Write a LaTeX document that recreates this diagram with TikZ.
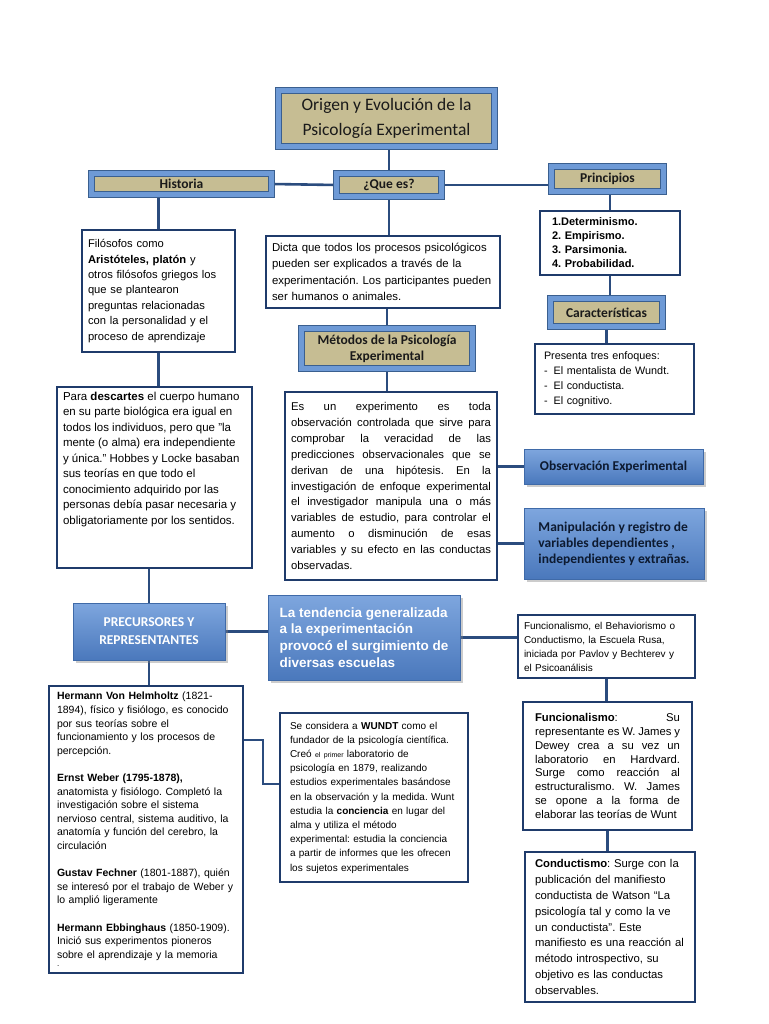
\documentclass[tikz,border=0pt]{standalone}
\usepackage{fontspec}
\setmainfont{Liberation Sans}
\newfontfamily\calibfont{Carlito}
\usetikzlibrary{shadows,backgrounds}
\definecolor{framedark}{HTML}{3A5F8F}
\definecolor{frameblue}{HTML}{6E9AD6}
\definecolor{tanfill}{HTML}{C6BD93}
\definecolor{boxnavy}{HTML}{1F3B6B}
\definecolor{linkblue}{HTML}{2B4C7E}
\definecolor{bluetop}{HTML}{7EA6DE}
\definecolor{bluebot}{HTML}{4A78BC}
\definecolor{blueedge}{HTML}{3F6AA8}
\definecolor{headtext}{HTML}{1A1A1A}
\definecolor{obstext}{HTML}{0D1A30}
\newcommand{\setfs}[2]{\fontsize{#1pt}{#2pt}\selectfont}
\frenchspacing
\begin{document}
\begin{tikzpicture}[x=1pt, y=-1pt,
		head/.style = {draw=framedark, line width=0.8pt, double=frameblue,
			double distance=5.4pt, fill=tanfill, text=headtext, align=center,
			inner sep=1pt, drop shadow={shadow xshift=2.5pt, shadow yshift=-2.5pt, opacity=0.4},
			font=\calibfont\bfseries\setfs{13.5}{16}},
		bluebox/.style = {draw=blueedge, line width=0.8pt, top color=bluetop,
			bottom color=bluebot, align=left,
			drop shadow={shadow xshift=2.5pt, shadow yshift=-2.5pt, opacity=0.4}},
		txt/.style = {draw=boxnavy, line width=1.6pt, fill=white, align=left,
			inner xsep=6pt, inner ysep=4pt},
		link/.style = {draw=linkblue, line width=2.6pt}]
	\useasboundingbox (0,0) rectangle (768,1024);
	% cabeceras
	\node[head, font=\calibfont\setfs{17.5}{25}, minimum width=216pt, minimum height=56pt] (titulo) at (386.5,118.5) {Origen y Evolución de la\\Psicología Experimental};
	\node[head, minimum width=180pt, minimum height=21pt] (historia) at (181.5,184) {Historia};
	\node[head, minimum width=105pt, minimum height=23pt] (quees) at (389,185) {¿Que es?};
	\node[head, minimum width=112pt, minimum height=25pt] (principios) at (607.5,179) {Principios};
	\node[head, minimum width=112pt, minimum height=28pt] (caract) at (606.5,312.5) {Características};
	\node[head, minimum width=171pt, minimum height=40pt] (metodos) at (387,348.5) {Métodos de la Psicología\\Experimental};
	% columna central
	\node[txt, text width=222pt, minimum height=72pt, font=\setfs{11.4}{16.5}] (queestxt) at (383,272) {Dicta que todos los procesos psicológicos\\pueden ser explicados a través de la\\experimentación. Los participantes pueden\\ser humanos o animales.};
	\node[txt, text width=200pt, minimum height=188pt, align=justify, font=\setfs{11.3}{15.9}] (exptxt) at (391,486) {Es un experimento es toda\linebreak
		observación controlada que sirve para\linebreak
		comprobar la veracidad de las\linebreak
		predicciones observacionales que se\linebreak
		derivan de una hipótesis. En la\linebreak
		investigación de enfoque experimental\linebreak
		el investigador manipula una o más\linebreak
		variables de estudio, para controlar el\linebreak
		aumento o disminución de esas\linebreak
		variables y su efecto en las conductas\linebreak
		observadas.};
	\node[bluebox, minimum width=179pt, minimum height=35pt, text=obstext, font=\calibfont\bfseries\setfs{13.5}{16}] (observ) at (613.5,466.5) {Observación Experimental};
	\node[bluebox, minimum width=180pt, minimum height=71pt, text=obstext, font=\calibfont\bfseries\setfs{13.5}{16}] (manipul) at (614,543.5) {Manipulación y registro de\\variables dependientes ,\\independientes y extrañas.};
	% columna izquierda
	\node[txt, text width=141pt, minimum height=122pt, font=\setfs{11.2}{15.4}] (histtxt) at (158.5,291) {Filósofos como\\\textbf{Aristóteles, platón} y\\otros filósofos griegos los\\que se plantearon\\preguntas relacionadas\\con la personalidad y el\\proceso de aprendizaje};
	\node[txt, inner ysep=5pt, font=\setfs{11.5}{15.5}] (descartes) at (154.5,477.5) {\parbox[c][171pt][t]{183pt}{\raggedright Para \textbf{descartes} el cuerpo humano\\en su parte biológica era igual en\\todos los individuos, pero que "la\\mente (o alma) era independiente\\y única." Hobbes y Locke basaban\\sus teorías en que todo el\\conocimiento adquirido por las\\personas debía pasar necesaria y\\obligatoriamente por los sentidos.}};
	\node[bluebox, minimum width=152pt, minimum height=57pt, align=center, text=white, font=\calibfont\bfseries\setfs{13.5}{18}] (precur) at (149,631.5) {PRECURSORES Y\\REPRESENTANTES};
	\node[bluebox, minimum width=192pt, minimum height=85pt, text=white, font=\bfseries\setfs{13.5}{16.7}] (tendencia) at (364,637.5) {La tendencia generalizada\\a la experimentación\\provocó el surgimiento de\\diversas escuelas};
	\node[txt, text width=178pt, inner xsep=8pt, inner ysep=3pt, minimum height=287pt, font=\setfs{10.5}{13.6}] (hermann) at (146,829.5) {\textbf{Hermann Von Helmholtz} (1821-\\1894), físico y fisiólogo, es conocido\\por sus teorías sobre el\\funcionamiento y los procesos de\\percepción.\\[13.6pt]
		\textbf{Ernst Weber (1795-1878),}\\anatomista y fisiólogo. Completó la\\investigación sobre el sistema\\nervioso central, sistema auditivo, la\\anatomía y función del cerebro, la\\circulación\\[13.6pt]
		\textbf{Gustav Fechner} (1801-1887), quién\\se interesó por el trabajo de Weber y\\lo amplió ligeramente\\[13.6pt]
		\textbf{Hermann Ebbinghaus} (1850-1909).\\Inició sus experimentos pioneros\\sobre el aprendizaje y la memoria\\[-5pt]{\setfs{8}{8}.}};
	\node[txt, text width=168pt, inner xsep=10pt, minimum height=169pt, font=\setfs{10}{14.2}] (wundt) at (374,797.5) {Se considera a \textbf{WUNDT} como el\\fundador de la psicología científica.\\Creó {\setfs{7}{14.2}el primer} laboratorio de\\psicología en 1879, realizando\\estudios experimentales basándose\\en la observación y la medida. Wunt\\estudia la \textbf{conciencia} en lugar del\\alma y utiliza el método\\experimental: estudia la conciencia\\a partir de informes que les ofrecen\\los sujetos experimentales};
	% columna derecha
	\node[txt, text width=116pt, inner xsep=12pt, minimum height=64pt, font=\bfseries\setfs{11}{14}] (princtxt) at (610,243) {1.Determinismo.\\2. Empirismo.\\3. Parsimonia.\\4. Probabilidad.};
	\node[txt, text width=141pt, inner xsep=9pt, minimum height=70pt, font=\setfs{10.8}{15}] (caracttxt) at (614.5,379) {Presenta tres enfoques:\\-\hspace{6pt}El mentalista de Wundt.\\-\hspace{6pt}El conductista.\\-\hspace{6pt}El cognitivo.};
	\node[txt, text width=165pt, minimum height=63pt, font=\setfs{10}{14}] (escuelas) at (606.5,646.5) {Funcionalismo, el Behaviorismo o\\Conductismo, la Escuela Rusa,\\iniciada por Pavlov y Bechterev y\\el Psicoanálisis};
	\node[txt, text width=145pt, inner xsep=12pt, minimum height=128pt, align=justify, font=\setfs{11.3}{13.8}] (funcional) at (607.5,766) {\textbf{Funcionalismo}: Su\linebreak
		representante es W. James y\linebreak
		Dewey crea a su vez un\linebreak
		laboratorio en Hardvard.\linebreak
		Surge como reacción al\linebreak
		estructuralismo. W. James\linebreak
		se opone a la forma de\linebreak
		elaborar las teorías de Wunt};
	\node[txt, text width=150pt, inner xsep=10pt, minimum height=150pt, font=\setfs{11.3}{15.9}] (conduct) at (610,927) {\textbf{Conductismo}: Surge con la\\publicación del manifiesto\\conductista de Watson “La\\psicología tal y como la ve\\un conductista”. Este\\manifiesto es una reacción al\\método introspectivo, su\\objetivo es las conductas\\observables.};
	% conectores
	\begin{scope}[on background layer]
		\fill[white] (0,0) rectangle (768,1024);
		\draw[link] (quees.north |- titulo.south) -- (quees.north);
		\draw[link] (historia.east) -- (quees.west);
		\draw[link] (quees.east) -- (quees.east -| principios.west);
		\draw[link] (quees.south) -- (quees.south |- queestxt.north);
		\draw[link] (queestxt.south -| metodos.north) -- (metodos.north);
		\draw[link] (metodos.south) -- (metodos.south |- exptxt.north);
		\draw[link] (observ.west -| exptxt.east) -- (observ.west);
		\draw[link] (manipul.west -| exptxt.east) -- (manipul.west);
		\draw[link] (histtxt.north |- historia.south) -- (histtxt.north);
		\draw[link] (histtxt.south) -- (histtxt.south |- descartes.north);
		\draw[link] (precur.north |- descartes.south) -- (precur.north);
		\draw[link] (precur.south) -- (precur.south |- hermann.north);
		\draw[link] (precur.east) -- (precur.east -| tendencia.west);
		\draw[link] (tendencia.east) -- (tendencia.east -| escuelas.west);
		\draw[link] ([yshift=89.5pt]hermann.east) -- ++(19,0) |- ([yshift=13.5pt]wundt.west);
		\draw[link] (principios.south -| princtxt.north) -- (princtxt.north);
		\draw[link] (princtxt.south) -- (princtxt.south |- caract.north);
		\draw[link] (caract.south) -- (caract.south |- caracttxt.north);
		\draw[link] (escuelas.south) -- (escuelas.south |- funcional.north);
		\draw[link] (funcional.south) -- (funcional.south |- conduct.north);
	\end{scope}
\end{tikzpicture}
\end{document}
